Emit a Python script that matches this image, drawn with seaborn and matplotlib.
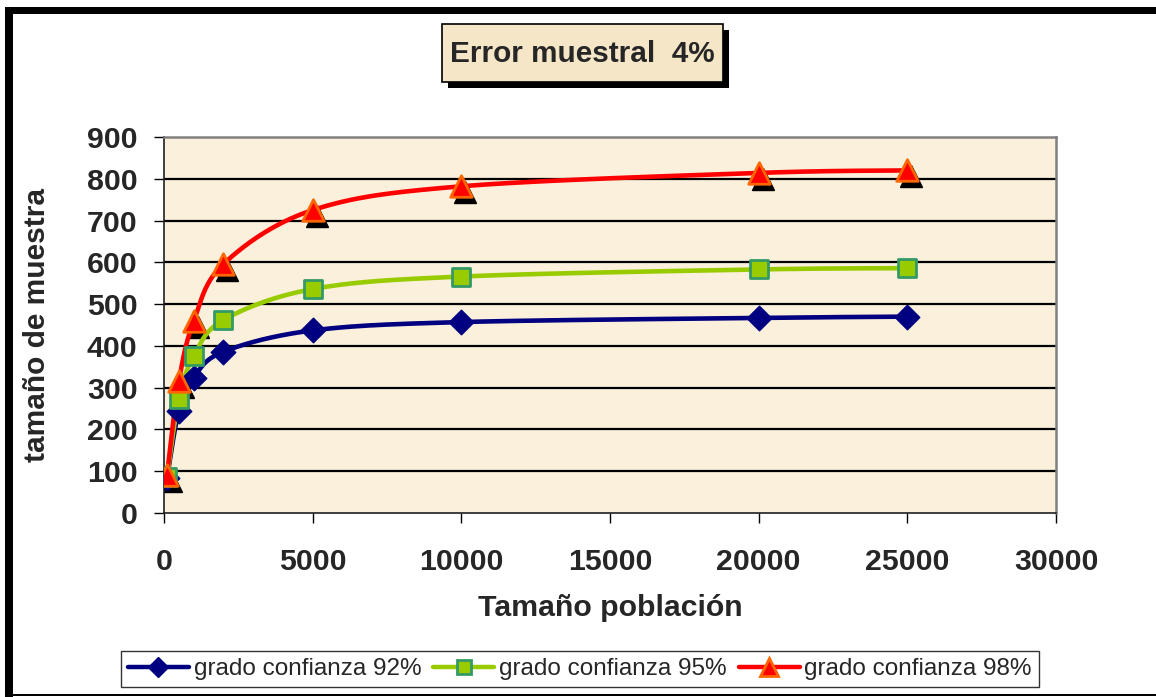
import numpy as np
import pandas as pd
import matplotlib
matplotlib.use("Agg")
import matplotlib.pyplot as plt
import matplotlib.transforms as mtransforms
from matplotlib.patches import Rectangle
from matplotlib.lines import Line2D
import seaborn as sns

# Population sizes and required sample sizes (sampling error 4%)
poblacion = [100, 500, 1000, 2000, 5000, 10000, 20000, 25000]
conf_92 = [83, 245, 324, 386, 437, 457, 467, 470]
conf_95 = [86, 273, 375, 462, 536, 566, 583, 586]
conf_98 = [90, 315, 459, 596, 725, 782, 814, 820]
series_labels = ["grado confianza 92%", "grado confianza 95%", "grado confianza 98%"]
x_ticks = [0, 5000, 10000, 15000, 20000, 25000, 30000]
y_ticks = [0, 100, 200, 300, 400, 500, 600, 700, 800, 900]

W, H = 1156, 697
sns.set_theme(style="white")
plt.rcParams["font.family"] = ["Liberation Sans", "DejaVu Sans"]

fig = plt.figure(figsize=(W / 100, H / 100), dpi=100)
fig.patch.set_facecolor("white")

L, R, T, B = 164, 1056, 137, 513
ax = fig.add_axes([L / W, 1 - B / H, (R - L) / W, (B - T) / H])
ax.set_facecolor("#FAF0DC")
ax.set_xlim(0, 30000)
ax.set_ylim(0, 900)


def smooth_curve(x, y, sx, sy, n=40):
    """Cubic Bezier smoothing through the points, computed in screen-like units."""
    P = np.column_stack([np.asarray(x, float) * sx, np.asarray(y, float) * sy])
    out = []
    m = len(P)
    t = np.linspace(0, 1, n)[:, None]
    for i in range(m - 1):
        p0 = P[i - 1] if i > 0 else P[i]
        p1, p2 = P[i], P[i + 1]
        p3 = P[i + 2] if i + 2 < m else P[i + 1]
        c1 = p1 + (p2 - p0) / 6.0
        c2 = p2 - (p3 - p1) / 6.0
        seg = ((1 - t) ** 3) * p1 + 3 * ((1 - t) ** 2) * t * c1 + 3 * (1 - t) * t ** 2 * c2 + t ** 3 * p2
        out.append(seg if i == 0 else seg[1:])
    S = np.vstack(out)
    return S[:, 0] / sx, S[:, 1] / sy


sx = (R - L) / 30000.0
sy = (B - T) / 900.0

# horizontal gridlines
for yv in y_ticks[1:-1]:
    ax.axhline(yv, color="black", lw=1.6, zorder=1)

styles = [
    dict(vals=conf_92, color="#000080", marker="D", ms=12.5, mfc="#000080", mec="#000080", mew=1.0),
    dict(vals=conf_95, color="#99CC00", marker="s", ms=12.5, mfc="#99CC00", mec="#339966", mew=2.0),
    dict(vals=conf_98, color="#FF0000", marker="^", ms=15.5, mfc="#FF0000", mec="#FF6600", mew=2.0),
]

for i, st in enumerate(styles):
    xs, ys = smooth_curve(poblacion, st["vals"], sx, sy)
    df = pd.DataFrame({"x": xs, "y": ys})
    sns.lineplot(data=df, x="x", y="y", ax=ax, color=st["color"], lw=3.3,
                 sort=False, estimator=None, zorder=3 + i * 0.1)

# drop shadow under the triangle markers
shadow_tr = mtransforms.offset_copy(ax.transData, fig=fig, x=4, y=-6, units="dots")
ax.plot(poblacion, conf_98, linestyle="none", marker="^", ms=15.5, mfc="black",
        mec="black", transform=shadow_tr, zorder=2.5)

for i, st in enumerate(styles):
    df = pd.DataFrame({"x": poblacion, "y": st["vals"]})
    sns.scatterplot(data=df, x="x", y="y", ax=ax, marker=st["marker"],
                    s=st["ms"] ** 2, color=st["mfc"], edgecolor=st["mec"],
                    linewidth=st["mew"], zorder=5 + i, legend=False)

ax.set_xticks(x_ticks)
ax.set_yticks(y_ticks)
ax.set_xticklabels([str(v) for v in x_ticks], fontsize=21.8, fontweight="bold")
ax.set_yticklabels([str(v) for v in y_ticks], fontsize=21.8, fontweight="bold")
ax.tick_params(axis="x", direction="out", length=7, width=1, color="black", pad=18, bottom=True)
ax.tick_params(axis="y", direction="out", length=7, width=1, color="black", pad=12, left=True)
ax.set_xlabel("")
ax.set_ylabel("")

for side in ["left", "bottom"]:
    ax.spines[side].set_color("#202020")
    ax.spines[side].set_linewidth(1.2)
for side in ["top", "right"]:
    ax.spines[side].set_color("#808080")
    ax.spines[side].set_linewidth(1.8)

fig.text((L + R) / 2 / W, 1 - 608 / H, "Tamaño población", ha="center", va="center",
         fontsize=21.8, fontweight="bold")
fig.text(37 / W, 1 - 325 / H, "tamaño de muestra", ha="center", va="center",
         rotation=90, fontsize=21.5, fontweight="bold")

# title box with drop shadow
bx0, bx1, by0, by1 = 442, 723, 24, 82
fig.add_artist(Rectangle(((bx0 + 6) / W, 1 - (by1 + 6) / H), (bx1 - bx0) / W, (by1 - by0) / H,
                         transform=fig.transFigure, facecolor="black", edgecolor="none", zorder=1))
fig.add_artist(Rectangle((bx0 / W, 1 - by1 / H), (bx1 - bx0) / W, (by1 - by0) / H,
                         transform=fig.transFigure, facecolor="#F5E6C8", edgecolor="black",
                         linewidth=1.2, zorder=2))
fig.text((bx0 + bx1) / 2 / W, 1 - 54 / H, "Error muestral  4%", ha="center", va="center",
         fontsize=21.4, fontweight="bold", zorder=3)

# chart frame
fig.add_artist(Rectangle((5 / W, 1 - 14 / H), (W - 5) / W, 7 / H, transform=fig.transFigure,
                         facecolor="black", edgecolor="none"))
fig.add_artist(Rectangle((5 / W, 0), 8 / W, (H - 7) / H, transform=fig.transFigure,
                         facecolor="black", edgecolor="none"))
fig.add_artist(Rectangle((5 / W, 1 - 696 / H), (W - 5) / W, 2.5 / H, transform=fig.transFigure,
                         facecolor="black", edgecolor="none"))

handles = [
    Line2D([], [], color=st["color"], lw=3.2, marker=st["marker"], ms=st["ms"] * 0.85,
           mfc=st["mfc"], mec=st["mec"], mew=st["mew"])
    for st in styles
]
leg = fig.legend(handles, series_labels, loc="center", bbox_to_anchor=(580 / W, 1 - 669 / H),
                 ncol=3, fontsize=17.5, frameon=True, fancybox=False, handlelength=2.5,
                 handletextpad=0.2, columnspacing=0.5, borderpad=0.3, borderaxespad=0)
leg.get_frame().set_edgecolor("black")
leg.get_frame().set_linewidth(1.0)
leg.get_frame().set_facecolor("white")

fig.savefig("out.png", dpi=100)
